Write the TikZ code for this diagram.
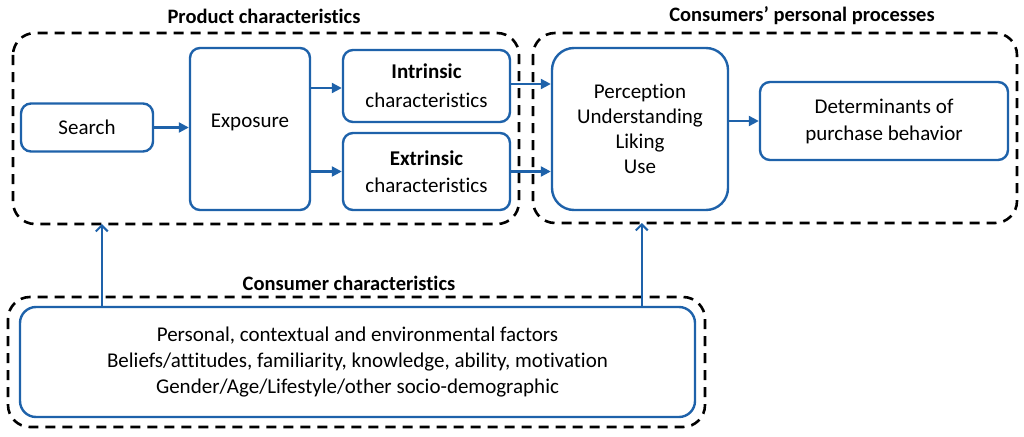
\documentclass[tikz,border=0pt]{standalone}
\usepackage{fontspec}
\setmainfont[Ligatures={NoCommon}]{Carlito}
\usetikzlibrary{arrows.meta,calc}
\definecolor{bblue}{RGB}{30,98,170}
\tikzset{
  bbox/.style={draw=bblue, line width=2.4pt, rounded corners=10pt, align=center, inner sep=0pt, font=\fontsize{21}{25}\selectfont},
  dbox/.style={draw=black, line width=2.6pt, dash pattern=on 10pt off 7pt, rounded corners=22pt},
  ttl/.style={font=\fontsize{20.5}{24}\selectfont\bfseries},
  arr/.style={draw=bblue, line width=2.2pt, -{Triangle[length=10pt,width=10pt]}},
  uarr/.style={draw=bblue, line width=2.2pt, -{Straight Barb[length=6pt,width=12pt,line width=2pt]}}
}
\begin{document}
\begin{tikzpicture}[x=1pt,y=-1pt]
\useasboundingbox[fill=white] (0,0) rectangle (1024,436);
% dashed groups
\draw[dbox] (13,33) rectangle (519,224);
\coordinate (box1bot) at (13,224);
\draw[dbox] (533,33) rectangle (1017,223);
\coordinate (box2bot) at (533,223);
\draw[dbox] (8,297) rectangle (705,427);
% titles
\node[ttl] (t1) at (264,16) {Product characteristics};
\node[ttl] (t2) at (802,16) {Consumers’ personal processes};
\node[ttl] (t3) at (349,283) {Consumer characteristics};
% boxes
\node[bbox, minimum width=132pt, minimum height=48pt] (search) at (87,127.5) {Search};
\node[bbox, minimum width=120pt, minimum height=162pt, label={[font=\fontsize{21}{24}\selectfont, yshift=7pt]center:Exposure}] (expo) at (250,129) {};
\node[bbox, minimum width=167pt, minimum height=72pt, font=\fontsize{21}{29}\selectfont] (intr) at (426.5,86) {\textbf{Intrinsic}\\characteristics};
\node[bbox, minimum width=167pt, minimum height=77pt, font=\fontsize{21}{27}\selectfont] (extr) at (426.5,171.5) {\textbf{Extrinsic}\\characteristics};
\node[bbox, minimum width=176pt, minimum height=162pt, rounded corners=22pt] (perc) at (640,129) {Perception\\Understanding\\Liking\\Use};
\node[bbox, minimum width=248pt, minimum height=78pt, font=\fontsize{21}{27}\selectfont] (det) at (884,121) {Determinants of\\purchase behavior};
\node[bbox, minimum width=675pt, minimum height=110pt, rounded corners=16pt, font=\fontsize{21}{26}\selectfont] (cons) at (357.5,362) {Personal, contextual and environmental factors\\Beliefs/attitudes, familiarity, knowledge, ability, motivation\\Gender/Age/Lifestyle/other socio-demographic};
% arrows
\draw[arr] (search.east) -- (search.east -| expo.west);
\draw[arr] ([yshift=-2pt]expo.east |- intr.west) -- ([yshift=-2pt]intr.west);
\draw[arr] (expo.east |- extr.west) -- (extr.west);
\draw[arr] ([yshift=2pt]intr.east) -- ([yshift=2pt]intr.east -| perc.west);
\draw[arr] (extr.east) -- (extr.east -| perc.west);
\draw[arr] ([yshift=8pt]perc.east) -- ([yshift=8pt]perc.east -| det.west);
\draw[uarr] ([xshift=83pt]cons.north west) -- ([xshift=83pt]cons.north west |- box1bot);
\draw[uarr] ([xshift=623pt]cons.north west) -- ([xshift=623pt]cons.north west |- box2bot);
\end{tikzpicture}
\end{document}
